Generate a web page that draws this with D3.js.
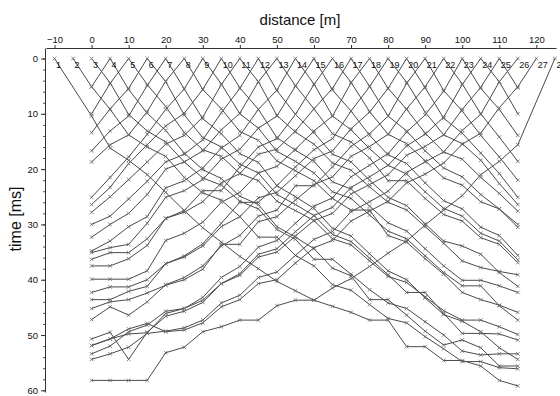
<!DOCTYPE html>
<html>
<head>
<meta charset="utf-8">
<script src="https://cdn.jsdelivr.net/npm/d3@7"></script>
<style>
  body { margin: 0; background: #fff; }
  text { font-family: "Liberation Sans Narrow", "Liberation Sans", Arial, sans-serif; fill: #111; }
</style>
</head>
<body>
<svg id="chart" width="560" height="396"></svg>
<script>
// Geophone spread (m) and shot points (m)
const geophones = [0,5,10,15,20,25,30,35,40,45,50,55,60,65,70,75,80,85,90,95,100,105,110,115];
const shotPositions = [-10,-5,0,5,10,15,20,25,30,35,40,45,50,55,60,65,70,75,80,85,90,95,100,105,110,115,120,125];
const shotLabels = ["1","2","3","4","5","6","7","8","9","10","11","12","13","14","15","16","17","18","19","20","21","22","23","24","25","26","27","28"];
const distanceTicks = [-10,0,10,20,30,40,50,60,70,80,90,100,110,120];
const timeTicks = [0,10,20,30,40,50,60];

// First-break picks (ms) for each shot at every geophone
const s01 = [10.4,16.2,18.4,21.0,24.2,27.5,30.6,33.2,35.8,38.0,40.3,42.0,43.7,44.8,45.9,47.3,47.3,52.1,52.1,54.6,54.6,55.6,58.2,59.2];
const s02 = [5.1,9.2,13.8,16.0,17.7,21.5,24.3,25.6,28.6,32.3,32.3,35.6,37.5,40.9,41.9,44.5,47.0,47.8,50.3,52.5,54.8,54.8,55.9,56.1];
const s03 = [0,4.4,10.1,13.1,15.1,18.7,21.6,22.9,25.8,27.2,30.9,32.7,36.3,36.3,39.0,41.8,44.2,45.2,47.6,50.0,52.9,53.6,53.4,53.4];
const s04 = [5.1,0,5.6,9.9,13.0,17.1,20.1,21.7,24.9,26.4,30.4,32.3,34.4,37.9,39.3,43.6,43.6,46.4,49.3,51.8,50.9,52.3,55.6,55.6];
const s05 = [10.0,4.5,0,4.7,8.7,13.4,16.5,17.7,20.8,22.1,25.8,27.5,29.3,32.6,33.7,36.6,39.4,40.5,43.1,45.6,47.3,47.3,48.5,49.9];
const s06 = [13.4,9.1,5.4,0,4.2,10.2,14.3,16.0,19.1,20.7,24.6,26.4,28.4,31.8,33.1,36.1,39.1,42.3,42.3,46.1,49.7,49.7,49.8,50.9];
const s07 = [16.7,13.1,10.4,4.9,0,5.5,10.9,13.6,17.2,18.8,23.0,25.0,27.1,30.7,32.1,35.3,38.4,40.0,43.3,46.3,47.5,49.4,52.3,54.4];
const s08 = [18.7,15.6,13.8,9.6,4.1,0,5.6,9.1,13.2,14.8,18.5,20.3,22.1,25.3,27.4,27.4,32.0,33.2,36.2,39.0,42.3,43.6,44.6,45.9];
const s09 = [25.1,21.5,17.8,13.7,9.2,5.5,0,4.6,10.0,12.6,16.8,18.6,20.7,24.1,25.3,28.3,31.2,32.6,35.7,38.7,41.1,41.1,44.7,47.3];
const s10 = [26.4,23.3,19.0,15.6,12.2,9.9,5.6,0,5.3,9.2,14.3,16.6,18.6,22.3,23.6,26.7,29.7,31.2,34.4,37.5,40.1,40.1,41.1,42.3];
const s11 = [27.8,25.0,21.9,18.7,15.5,13.9,10.6,4.7,0,4.2,10.3,13.3,15.5,18.9,20.2,23.2,26.0,27.4,30.4,33.4,36.6,37.8,38.5,39.1];
const s12 = [30.0,28.5,25.4,22.2,18.7,17.3,14.7,9.8,5.4,0,5.8,10.1,13.4,17.3,18.7,22.0,25.1,26.6,29.9,33.0,33.9,35.4,38.7,41.2];
const s13 = [32.3,30.0,28.0,24.6,20.0,18.7,16.7,12.9,9.9,4.2,0,4.9,9.1,13.6,15.1,18.0,22.1,22.1,25.3,28.2,29.4,32.4,33.6,36.9];
const s14 = [34.8,33.0,30.4,28.6,23.4,22.1,19.8,16.2,13.9,9.2,5.7,0,4.6,10.4,12.9,16.3,19.3,20.9,24.1,27.1,28.5,31.6,33.0,36.4];
const s15 = [35.1,34.2,33.6,29.8,25.1,23.9,21.9,18.2,16.4,12.6,10.4,5.0,0,5.7,9.5,13.9,17.4,19.0,22.5,25.7,27.2,30.5,32.0,35.6];
const s16 = [37.5,37.5,36.2,33.8,28.9,27.5,23.9,23.9,19.6,16.0,14.5,10.1,4.7,0,4.3,9.6,13.7,15.4,18.5,21.6,22.9,25.9,27.2,30.5];
const s17 = [36.3,35.1,35.1,32.6,28.9,27.8,25.9,22.5,20.8,17.3,16.4,13.1,9.1,5.4,0,5.0,10.4,13.1,16.7,19.8,21.4,24.6,27.2,30.0];
const s18 = [39.9,39.9,39.9,38.4,32.9,31.6,29.6,26.0,24.2,20.7,19.5,16.4,13.1,10.4,4.4,0,5.4,9.2,13.5,16.9,18.2,21.5,24.4,27.6];
const s19 = [43.6,43.6,42.1,41.2,37.1,35.7,33.5,29.8,26.0,26.0,23.0,19.6,16.5,14.5,9.5,5.1,0,4.3,9.7,13.8,15.4,18.4,22.6,26.4];
const s20 = [42.3,41.3,41.3,40.0,37.1,35.9,33.9,30.4,28.6,25.2,24.2,21.2,18.1,16.7,12.7,9.7,5.4,0,5.3,10.8,13.5,17.1,20.8,25.1];
const s21 = [47.2,44.9,46.4,44.0,40.9,39.6,37.5,33.9,32.0,28.5,27.4,23.0,23.0,19.6,15.9,13.6,10.4,4.5,0,5.8,9.5,13.9,17.8,22.0];
const s22 = [45.2,44.0,43.6,42.4,41.0,40.0,38.1,33.6,33.6,29.5,28.6,25.6,22.8,21.4,17.7,15.9,13.7,9.1,5.1,0,4.6,10.0,14.2,18.6];
const s23 = [51.9,50.7,49.8,49.6,46.1,45.2,43.2,39.6,37.6,34.1,32.9,29.8,26.7,25.2,21.4,19.3,17.2,13.3,10.2,5.9,0,5.4,9.2,13.9];
const s24 = [50.7,49.5,54.4,49.5,46.6,45.7,44.1,40.7,38.9,35.4,34.4,31.3,28.4,26.9,23.3,21.4,19.3,15.8,13.7,10.6,4.7,0,4.2,10.0];
const s25 = [53.4,52.0,49.4,48.2,45.7,45.2,43.7,40.7,39.2,35.9,35.0,32.1,29.3,28.0,24.5,22.8,21.0,17.5,15.9,13.8,9.2,5.2,0,5.3];
const s26 = [54.4,53.4,52.2,49.7,49.3,48.7,47.3,44.2,42.8,39.6,38.6,35.6,32.7,31.3,27.7,25.9,24.0,20.6,18.7,16.9,13.0,10.1,4.2,0];
const s27 = [51.9,50.7,48.9,47.9,49.4,49.1,47.8,44.9,43.6,40.7,40.0,37.0,34.2,32.9,29.4,27.6,25.8,22.5,20.9,18.9,15.5,13.5,8.9,5.1];
const s28 = [58.2,58.2,58.2,58.2,53.2,52.2,49.4,48.5,47.3,47.3,44.7,43.7,43.7,41.5,39.8,37.6,35.2,33.0,30.1,27.4,24.8,21.0,18.6,15.6];

const picks = [s01,s02,s03,s04,s05,s06,s07,s08,s09,s10,s11,s12,s13,s14,s15,s16,s17,s18,s19,s20,s21,s22,s23,s24,s25,s26,s27,s28];

const svg = d3.select("#chart");
svg.append("rect").attr("width", 560).attr("height", 396).attr("fill", "#fff");

const x = d3.scaleLinear().domain([-12.3, 125.3]).range([46, 556]);
const y = d3.scaleLinear().domain([-1.9, 60.3]).range([48, 392]);

// Travel-time curves: each shot joined to its geophone picks
const curves = picks.map((row, i) => {
  const pts = geophones.map((g, j) => ({ d: g, t: row[j] }));
  const sp = shotPositions[i];
  if (!geophones.includes(sp)) pts.push({ d: sp, t: 0 });
  pts.sort((a, b) => a.d - b.d);
  return { label: shotLabels[i], pos: sp, pts };
});

const line = d3.line().x(p => x(p.d)).y(p => y(p.t));
const plot = svg.append("g");

plot.selectAll("path.curve").data(curves).join("path")
  .attr("class", "curve")
  .attr("d", c => line(c.pts))
  .attr("fill", "none")
  .attr("stroke", "#4a4a4a")
  .attr("stroke-width", 1);

const cross = "M-1.8,-1.8L1.8,1.8M-1.8,1.8L1.8,-1.8";
plot.selectAll("g.marks").data(curves).join("g")
  .attr("class", "marks")
  .selectAll("path").data(c => c.pts).join("path")
  .attr("transform", p => `translate(${x(p.d)},${y(p.t)})`)
  .attr("d", cross)
  .attr("fill", "none")
  .attr("stroke", "#666")
  .attr("stroke-width", 0.8);

// Shot numbers beside the source points
plot.selectAll("text.shot").data(curves).join("text")
  .attr("class", "shot")
  .attr("x", c => x(c.pos) + 1.5)
  .attr("y", y(0) + 9.5)
  .attr("font-size", 9)
  .text(c => c.label);

// Top distance axis
const xAxis = svg.append("g").attr("transform", `translate(0,${y(-1.9)})`)
  .call(d3.axisTop(x).tickValues(distanceTicks).tickSize(3).tickSizeOuter(0).tickPadding(2));
xAxis.selectAll("text").attr("font-size", 9.5).style("fill", "#111");
xAxis.select(".domain").attr("stroke", "#333");
xAxis.selectAll(".tick line").attr("stroke", "#333");

// Left time axis with minor ticks
const minor = d3.range(0, 61, 2);
svg.append("g").attr("transform", `translate(45,0)`)
  .call(d3.axisLeft(y).tickValues(minor).tickSize(2).tickFormat(""))
  .call(g => g.select(".domain").remove())
  .selectAll(".tick line").attr("stroke", "#555");
const yAxis = svg.append("g").attr("transform", `translate(45,0)`)
  .call(d3.axisLeft(y).tickValues(timeTicks).tickSize(4).tickSizeOuter(0).tickPadding(3));
yAxis.selectAll("text").attr("font-size", 9.5).style("fill", "#111");
yAxis.select(".domain").attr("stroke", "#333");
yAxis.selectAll(".tick line").attr("stroke", "#333");

// Axis titles
svg.append("text").attr("x", 300).attr("y", 25).attr("text-anchor", "middle")
  .attr("font-size", 15).text("distance [m]");
svg.append("text").attr("transform", "translate(21,219) rotate(-90)")
  .attr("text-anchor", "middle").attr("font-size", 16).text("time [ms]");
</script>
</body>
</html>
